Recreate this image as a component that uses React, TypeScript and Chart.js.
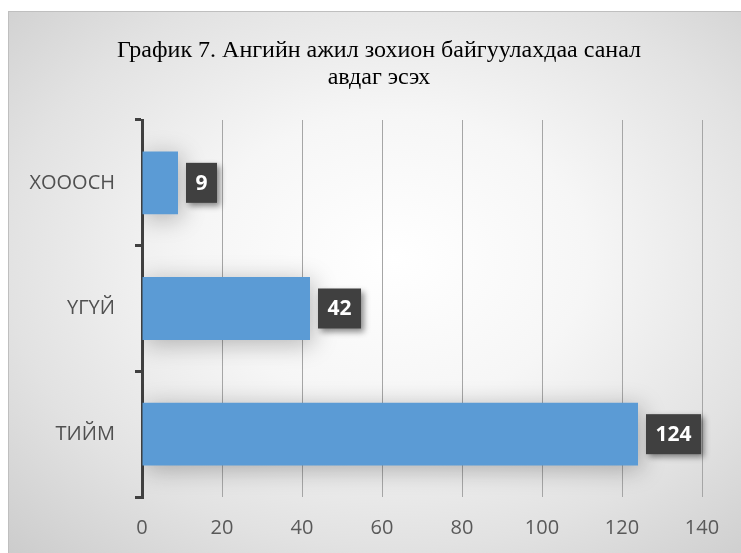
import React, { useEffect, useRef } from "react";
import { Chart, registerables } from "chart.js";

Chart.register(...registerables);

const categories = ["ХОООСН", "ҮГҮЙ", "ТИЙМ"];
const values = [9, 42, 124];
const titleLines = ["График 7. Ангийн ажил зохион байгуулахдаа санал", "авдаг эсэх"];
const xMin = 0;
const xMax = 140;
const xStep = 20;

const barShadowPlugin = {
  id: "barShadow",
  beforeDatasetsDraw(chart: any) {
    const ctx = chart.ctx;
    ctx.save();
    ctx.shadowColor = "rgba(0,0,0,0.28)";
    ctx.shadowBlur = 24;
    ctx.shadowOffsetX = 3;
    ctx.shadowOffsetY = 4;
  },
  afterDatasetsDraw(chart: any) {
    chart.ctx.restore();
  },
};

const labelPlugin = {
  id: "valueBoxes",
  afterDatasetsDraw(chart: any) {
    const ctx = chart.ctx;
    const meta = chart.getDatasetMeta(0);
    ctx.save();
    ctx.font = "bold 21px 'Open Sans'";
    meta.data.forEach((bar: any, i: number) => {
      const txt = String(chart.data.datasets[0].data[i]);
      const tw = ctx.measureText(txt).width;
      const w = tw + 19;
      const h = 40;
      const x = bar.x + 8;
      const y = bar.y - h / 2;
      ctx.save();
      ctx.shadowColor = "rgba(0,0,0,0.45)";
      ctx.shadowBlur = 6;
      ctx.shadowOffsetX = 3;
      ctx.shadowOffsetY = 3;
      ctx.fillStyle = "#404040";
      ctx.fillRect(x, y, w, h);
      ctx.restore();
      ctx.fillStyle = "#ffffff";
      ctx.textAlign = "center";
      ctx.textBaseline = "middle";
      ctx.fillText(txt, x + w / 2, bar.y + 1);
    });
    ctx.restore();
  },
};

const titlePlugin = {
  id: "customTitle",
  afterDraw(chart: any) {
    const ctx = chart.ctx;
    ctx.save();
    ctx.font = "24px 'Liberation Serif'";
    ctx.fillStyle = "#000000";
    ctx.textAlign = "center";
    ctx.textBaseline = "alphabetic";
    ctx.fillText(titleLines[0], 370, 45);
    ctx.fillText(titleLines[1], 370, 72);
    ctx.restore();
  },
};

export default function App() {
  const ref = useRef<HTMLCanvasElement>(null);
  useEffect(() => {
    if (!ref.current) return;
    const chart = new Chart(ref.current, {
      type: "bar",
      data: {
        labels: categories,
        datasets: [
          {
            data: values,
            backgroundColor: "#5B9BD5",
            barPercentage: 0.5,
            categoryPercentage: 1,
          },
        ],
      },
      options: {
        indexAxis: "y",
        animation: false,
        responsive: false,
        maintainAspectRatio: false,
        layout: { padding: { top: 108, right: 39, left: 0, bottom: 0 } },
        plugins: {
          legend: { display: false },
          tooltip: { enabled: false },
          title: { display: false },
        },
        scales: {
          x: {
            min: xMin,
            max: xMax,
            ticks: {
              stepSize: xStep,
              color: "#595959",
              font: { family: "'Open Sans'", size: 20 },
              padding: 19,
            },
            grid: { color: "#a6a6a6", lineWidth: 1, drawTicks: false },
            border: { display: false },
            afterFit: (s: any) => {
              s.height = 56;
            },
          },
          y: {
            ticks: {
              color: "#505050",
              font: { family: "'Open Sans'", size: 20 },
              padding: 20,
            },
            grid: {
              drawOnChartArea: false,
              drawTicks: true,
              tickLength: 7,
              color: "#404040",
              lineWidth: 3,
            },
            border: { display: true, color: "#404040", width: 3 },
            afterFit: (s: any) => {
              s.width = 133;
            },
          },
        },
      },
      plugins: [barShadowPlugin, labelPlugin, titlePlugin],
    });
    return () => chart.destroy();
  }, []);

  return (
    <div
      style={{
        position: "fixed",
        left: 8,
        top: 11,
        width: 740,
        height: 548,
        borderTop: "1px solid #bfbfbf",
        borderLeft: "1px solid #bfbfbf",
        background:
          "radial-gradient(ellipse 75% 75% at 52% 45%, #ffffff 0%, #f6f6f6 35%, #e2e2e2 70%, #cccccc 100%)",
        overflow: "hidden",
      }}
    >
      <canvas ref={ref} width={732} height={541} style={{ display: "block" }} />
    </div>
  );
}
